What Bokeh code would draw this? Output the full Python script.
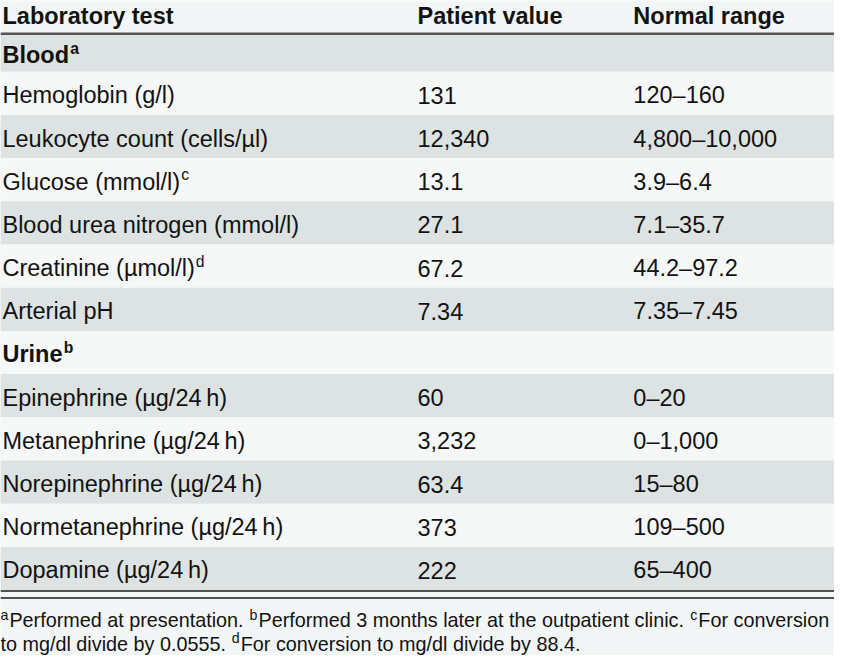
from bokeh.plotting import figure
from bokeh.models import Range1d
from bokeh.embed import file_html
from bokeh.resources import INLINE
from bokeh.core.properties import value

# ---------------- data ----------------
headers = ["Laboratory test", "Patient value", "Normal range"]
tests = ["Blood", "Hemoglobin (g/l)", "Leukocyte count (cells/µl)", "Glucose (mmol/l)",
         "Blood urea nitrogen (mmol/l)", "Creatinine (µmol/l)", "Arterial pH", "Urine",
         "Epinephrine (µg/24\u2009h)", "Metanephrine (µg/24\u2009h)", "Norepinephrine (µg/24\u2009h)",
         "Normetanephrine (µg/24\u2009h)", "Dopamine (µg/24\u2009h)"]
is_section = [True, False, False, False, False, False, False, True, False, False, False, False, False]
test_marks = ["a", "", "", "c", "", "d", "", "b", "", "", "", "", ""]
patient_values = ["", "131", "12,340", "13.1", "27.1", "67.2", "7.34", "", "60", "3,232", "63.4", "373", "222"]
normal_ranges = ["", "120–160", "4,800–10,000", "3.9–6.4", "7.1–35.7", "44.2–97.2", "7.35–7.45", "",
                 "0–20", "0–1,000", "15–80", "109–500", "65–400"]
note_marks = ["a", "b", "c", "d"]
note_texts = ["Performed at presentation.",
              "Performed 3 months later at the outpatient clinic.",
              "For conversion to mg/dl divide by 0.0555.",
              "For conversion to mg/dl divide by 88.4."]

# ---------------- layout helpers ----------------
W, H = 850, 671
S = 834 / 850.0
FONT = "Liberation Sans"

REG = {' ': 278, '(': 333, ')': 333, ',': 278, '-': 333, '.': 278, '/': 278, '\u2009': 167, '–': 556,
       'A': 667, 'B': 667, 'C': 722, 'D': 722, 'E': 667, 'F': 611, 'G': 778, 'H': 722, 'L': 556,
       'M': 833, 'N': 722, 'P': 667, 'U': 722, 'a': 556, 'b': 556, 'c': 500, 'd': 556, 'e': 556,
       'f': 278, 'g': 556, 'h': 556, 'i': 222, 'k': 500, 'l': 222, 'm': 833, 'n': 556, 'o': 556,
       'p': 556, 'r': 333, 's': 500, 't': 278, 'u': 556, 'v': 500, 'y': 500, 'µ': 556}
BOLD = {'B': 722, 'U': 722, 'l': 278, 'o': 611, 'd': 611, 'r': 389, 'i': 278, 'n': 611, 'e': 556}


def tw(s, size, bold=False):
    tab = BOLD if bold else REG
    return sum(tab.get(ch, REG.get(ch, 556)) for ch in s) * size / 1000.0


def px(size):
    return "%.1fpx" % (size * S)


BG = "#f3f6f6"
GRAY = "#dde2e2"
LIGHT = "#f6f8f8"
INK = "#121212"

p = figure(width=834, height=655, x_range=Range1d(0, W), y_range=Range1d(H, 0),
           output_backend="svg", toolbar_location=None, min_border=0,
           background_fill_color=BG, border_fill_color=BG)
p.axis.visible = False
p.grid.visible = False
p.outline_line_color = None

# ---------------- row stripes ----------------
n = len(tests)
tops, bots = [], []
for i in range(n):
    if i == 0:
        t, b = 35.0, 73.0
    else:
        t = 73.0 + 44.25 * (i - 1)
        b = t + 44.25
    tops.append(t)
    bots.append(b)
colors = [GRAY if i % 2 == 0 else LIGHT for i in range(n)]
p.quad(left=0, right=W, top=tops, bottom=bots, fill_color=colors, line_color=None)

# rules
p.segment(x0=0, x1=W, y0=34, y1=34, line_color="#555555", line_width=2.5)
p.segment(x0=0, x1=W, y0=bots[-1] + 1, y1=bots[-1] + 1, line_color="#1a1a1a", line_width=1.5)
p.segment(x0=0, x1=W, y0=612, y1=612, line_color="#1a1a1a", line_width=1.5)

# ---------------- header ----------------
FS = 24
col_x = [2, 425, 645]
p.text(x=col_x, y=[16] * 3, text=headers, text_font=value(FONT), text_font_size=px(FS),
       text_font_style="bold", text_color=INK, text_baseline="middle", text_align="left")

# ---------------- body ----------------
cy = [(tops[i] + bots[i]) / 2 + 2 for i in range(n)]
reg_i = [i for i in range(n) if not is_section[i]]
sec_i = [i for i in range(n) if is_section[i]]

p.text(x=[col_x[0]] * len(reg_i), y=[cy[i] for i in reg_i], text=[tests[i] for i in reg_i],
       text_font=value(FONT), text_font_size=px(FS), text_color=INK, text_baseline="middle")
p.text(x=[col_x[0]] * len(sec_i), y=[cy[i] for i in sec_i], text=[tests[i] for i in sec_i],
       text_font=value(FONT), text_font_size=px(FS), text_font_style="bold", text_color=INK,
       text_baseline="middle")
p.text(x=[col_x[1]] * len(reg_i), y=[cy[i] for i in reg_i], text=[patient_values[i] for i in reg_i],
       text_font=value(FONT), text_font_size=px(FS), text_color=INK, text_baseline="middle")
p.text(x=[col_x[2]] * len(reg_i), y=[cy[i] for i in reg_i], text=[normal_ranges[i] for i in reg_i],
       text_font=value(FONT), text_font_size=px(FS), text_color=INK, text_baseline="middle")

SUP = 16
mk = [i for i in range(n) if test_marks[i]]
sec_bold = [is_section[i] for i in mk]
mx = [col_x[0] + tw(tests[i], FS, is_section[i]) + 1 for i in mk]
my = [cy[i] - 7 for i in mk]
for bold in (True, False):
    sel = [k for k in range(len(mk)) if sec_bold[k] == bold]
    if sel:
        p.text(x=[mx[k] for k in sel], y=[my[k] for k in sel], text=[test_marks[mk[k]] for k in sel],
               text_font=value(FONT), text_font_size=px(SUP),
               text_font_style="bold" if bold else "normal", text_color=INK, text_baseline="middle")

# ---------------- footnotes (word-flow) ----------------
FN = 20.2
FSUP = 14.5
LINE_Y = [635, 659]
maxw = 849
sp = tw(" ", FN)
lines = [[]]
x = 0.0
first_on_line = True
for m, txt in zip(note_marks, note_texts):
    words = txt.split(" ")
    for wi, word in enumerate(words):
        mark = m if wi == 0 else ""
        mw = tw(mark, FSUP) + (1 if mark else 0)
        ww = tw(word, FN)
        start = x if first_on_line else x + sp
        if start + mw + ww > maxw and not first_on_line:
            lines.append([])
            start = 0.0
        seg = lines[-1]
        if mark:
            seg.append(["sup", start, mark])
            seg.append(["reg", start + mw, word])
        else:
            if seg and seg[-1][0] == "reg":
                seg[-1][2] += " " + word
            else:
                seg.append(["reg", start, word])
        x = start + mw + ww
        first_on_line = False

rx, ry, rt, sx, sy, st = [], [], [], [], [], []
for li, seg in enumerate(lines):
    yb = LINE_Y[min(li, len(LINE_Y) - 1)] + 24 * max(0, li - 1)
    for kind, xx, tt in seg:
        if kind == "sup":
            sx.append(xx); sy.append(yb - 6); st.append(tt)
        else:
            rx.append(xx); ry.append(yb); rt.append(tt)

p.text(x=rx, y=ry, text=rt, text_font=value(FONT), text_font_size=px(FN), text_color=INK,
       text_baseline="middle")
p.text(x=sx, y=sy, text=st, text_font=value(FONT), text_font_size=px(FSUP), text_color=INK,
       text_baseline="middle")

open("out.html", "w").write(file_html(p, INLINE))
